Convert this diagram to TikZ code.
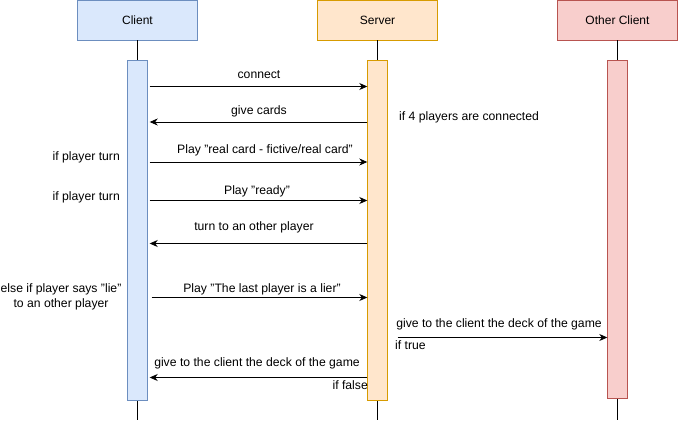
\documentclass[tikz,border=0pt]{standalone}
\usepackage{fontspec}
\setmainfont{Liberation Sans}
\usetikzlibrary{arrows.meta}
\definecolor{cfill}{HTML}{DAE8FC}\definecolor{cline}{HTML}{6C8EBF}
\definecolor{sfill}{HTML}{FFE6CC}\definecolor{sline}{HTML}{D79B00}
\definecolor{ofill}{HTML}{F8CECC}\definecolor{oline}{HTML}{B85450}
\tikzset{
  head/.style={draw=#1line, fill=#1fill, minimum width=120pt, minimum height=40pt, inner sep=0pt, font=\fontsize{12}{14}\selectfont},
  bar/.style={draw=#1line, fill=#1fill, minimum width=20pt, inner sep=0pt},
  msg/.style={draw=black, line width=0.8pt, -{Stealth[length=8pt,width=7pt,inset=2.5pt]}},
  lbl/.style={font=\fontsize{12.2}{14}\selectfont, inner sep=0pt},
  life/.style={draw=black, line width=0.8pt}
}
\begin{document}
\begin{tikzpicture}[x=1pt,y=-1pt]
\useasboundingbox (0,0) rectangle (679,422);
% headers
\node[head=c] (ch) at (137.5,20) {Client};
\node[head=s] (sh) at (377.5,20) {Server};
\node[head=o] (oh) at (617.5,20) {Other Client};
% lifeline ends
\coordinate (ce) at (137.5,420);
\coordinate (se) at (377.5,420);
\coordinate (oe) at (617.5,420);
\draw[life] (ch.south) -- (ce);
\draw[life] (sh.south) -- (se);
\draw[life] (oh.south) -- (oe);
% activation bars
\node[bar=c, minimum height=340pt] (cb) at (137.5,230) {};
\node[bar=s, minimum height=340pt] (sb) at (377.5,230) {};
\node[bar=o, minimum height=338pt] (ob) at (617.5,229) {};
% messages
\draw[msg, shorten <=2pt] (cb.east |- {0,86.5}) -- (sb.west |- {0,86.5});
\node[lbl] at (259,74.5) {connect};
\draw[msg, shorten >=2pt] (sb.west |- {0,122}) -- (cb.east |- {0,122});
\node[lbl] at (259,111.5) {give cards};
\node[lbl, anchor=west] at (399,117.5) {if 4 players are connected};

\draw[msg, shorten <=2pt] (cb.east |- {0,162}) -- (sb.west |- {0,162});
\node[lbl] at (265,150) {Play "real card - fictive/real card"};
\node[lbl, anchor=east] at (120,157) {if player turn};

\draw[msg, shorten <=2pt] (cb.east |- {0,200.5}) -- (sb.west |- {0,200.5});
\node[lbl] at (257,191.5) {Play "ready"};
\node[lbl, anchor=east] at (120,197) {if player turn};

\draw[msg, shorten >=2pt] (sb.west |- {0,243.5}) -- (cb.east |- {0,243.5});
\node[lbl] at (254,227.5) {turn to an other player};

\draw[msg, shorten <=4pt] (cb.east |- {0,297.5}) -- (sb.west |- {0,297.5});
\node[lbl] at (262,289) {Play "The last player is a lier"};
\node[lbl, align=center, font=\fontsize{12.2}{15}\selectfont] at (61,296.5) {else if player says "lie"\\to an other player};

\draw[msg, shorten <=10pt] (sb.east |- {0,337.5}) -- (ob.west |- {0,337.5});
\node[lbl] at (499,324) {give to the client the deck of the game};
\node[lbl, anchor=west] at (395,345) {if true};

\draw[msg, shorten >=2pt] (sb.west |- {0,377.5}) -- (cb.east |- {0,377.5});
\node[lbl] at (257,363) {give to the client the deck of the game};
\node[lbl, anchor=east] at (368,385) {if false};
\end{tikzpicture}
\end{document}
